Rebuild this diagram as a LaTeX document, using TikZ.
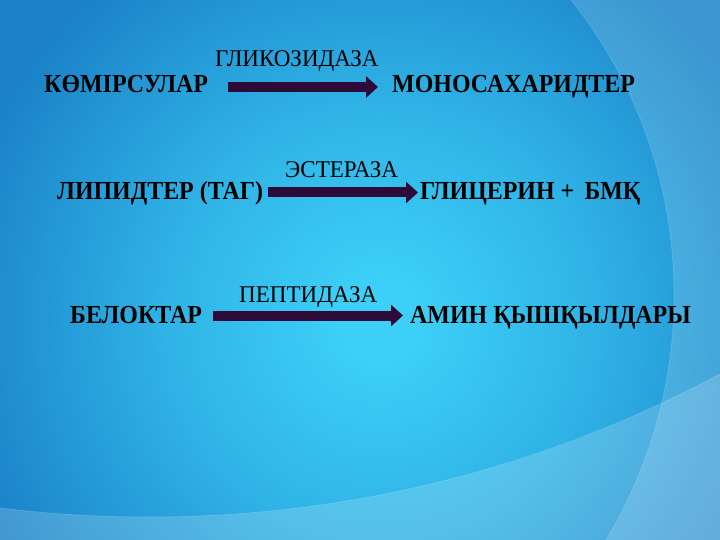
\documentclass[tikz,border=0pt]{standalone}
\usepackage{fontspec}
\setmainfont{Liberation Serif}
\newfontfamily\substfont[FakeStretch=0.92]{Liberation Serif}
\newfontfamily\enzfont[FakeStretch=0.96]{Liberation Serif}
\usetikzlibrary{arrows.meta}
\definecolor{basec}{RGB}{27,130,200}
\definecolor{glowc}{RGB}{60,208,248}
\definecolor{arrc}{RGB}{45,10,55}
% circle of radius 600pt: 25bp <-> 600pt, so 1bp <-> 24pt
\pgfdeclareradialshading{bgglow}{\pgfpoint{0bp}{0bp}}{color(0bp)=(glowc); color(1.5bp)=(glowc); color(9bp)=(glowc!62!basec); color(18bp)=(basec); color(50bp)=(basec)}
\begin{document}
\begin{tikzpicture}[x=1pt,y=-1pt,
  subst/.style={font=\substfont\fontsize{26}{30}\selectfont\bfseries, inner sep=0pt, anchor=base west, text=black},
  enz/.style={font=\enzfont\fontsize{24}{28}\selectfont, inner sep=0pt, anchor=base west, text=black},
  fat/.style={draw=arrc, line width=10pt, -{Triangle[length=12pt,width=21pt]}}]
\useasboundingbox (0,0) rectangle (720,540);
\fill[basec] (0,0) rectangle (720,540);
\begin{scope}
\clip (0,0) rectangle (720,540);
\shade[shading=bgglow] (380,320) circle[radius=600pt];
\fill[white, opacity=0.15, even odd rule] (-10,-10) rectangle (730,550) (200,295) circle[radius=474pt];
\fill[white, opacity=0.18, even odd rule] (-10,-10) rectangle (730,550) (149,-691) circle[radius=1208pt];
\draw[white, opacity=0.15, line width=0.7pt] (200,295) circle[radius=474pt];
\draw[white, opacity=0.15, line width=0.7pt] (149,-691) circle[radius=1208pt];
\end{scope}

\node[subst] (s1) at (44,93) {КӨМІРСУЛАР};
\node[subst] (t1) at (392,93) {МОНОСАХАРИДТЕР};
\node[enz] (e1) at (215,67) {ГЛИКОЗИДАЗА};
\draw[fat] ([xshift=20pt,yshift=6pt]s1.base east) -- ([xshift=-14pt,yshift=6pt]t1.base west);

\node[subst] (s2) at (57,200) {ЛИПИДТЕР (ТАГ)};
\node[subst] (t2) at (420,200) {ГЛИЦЕРИН +\, БМҚ};
\node[enz] (e2) at (285,178) {ЭСТЕРАЗА};
\draw[fat] ([xshift=5pt,yshift=7.5pt]s2.base east) -- ([xshift=-2pt,yshift=7.5pt]t2.base west);

\node[subst] (s3) at (70,323) {БЕЛОКТАР};
\node[subst] (t3) at (410,323) {АМИН ҚЫШҚЫЛДАРЫ};
\node[enz] (e3) at (239,302) {ПЕПТИДАЗА};
\draw[fat] ([xshift=11pt,yshift=7.5pt]s3.base east) -- ([xshift=-7pt,yshift=7.5pt]t3.base west);
\end{tikzpicture}
\end{document}
